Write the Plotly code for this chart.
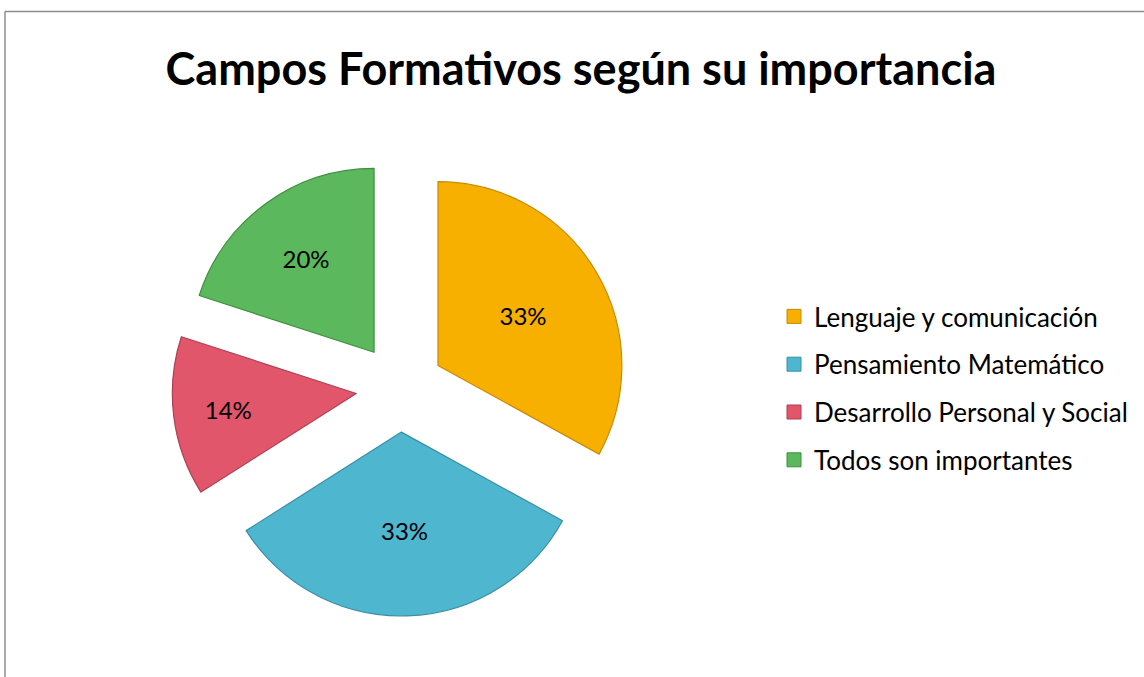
import plotly.graph_objects as go

categories = ["Lenguaje y comunicación", "Pensamiento Matemático",
              "Desarrollo Personal y Social", "Todos son importantes"]
values = [33, 33, 14, 20]
colors = ["#F8B000", "#4EB6CF", "#E2566C", "#5CB85C"]
edge_colors = ["#C98A00", "#3A8FA6", "#B23E52", "#3E8E3E"]
title_text = "Campos Formativos según su importancia"

W, H = 1144, 677
cx, cy, half = 400, 388, 228

fig = go.Figure()
fig.add_trace(go.Pie(
    labels=categories, values=values, sort=False, direction="clockwise",
    rotation=0, pull=[0.24] * len(values),
    marker=dict(colors=colors, line=dict(color=edge_colors, width=1.2)),
    texttemplate="%{percent:.0%}", textposition="inside",
    insidetextorientation="horizontal",
    textfont=dict(family="Lato, sans-serif", size=24, color="#000000"),
    showlegend=False, hoverinfo="label+percent",
    domain=dict(x=[(cx - half) / W, (cx + half) / W],
                y=[1 - (cy + half) / H, 1 - (cy - half) / H]),
))

# legend entries (one group per category for spacing)
for name, col, ec in zip(categories, colors, edge_colors):
    fig.add_trace(go.Scatter(
        x=[0], y=[0], mode="markers", name=name, legendgroup=name,
        marker=dict(symbol="square", size=14, color=col, line=dict(color=ec, width=1)),
        hoverinfo="skip",
    ))

fig.update_layout(
    width=W, height=H,
    margin=dict(l=0, r=0, t=0, b=0),
    paper_bgcolor="white", plot_bgcolor="white",
    xaxis=dict(visible=False, range=[1, 2]),
    yaxis=dict(visible=False, range=[1, 2]),
    title=dict(text="<b>" + title_text + "</b>", x=581 / W, xanchor="center",
               y=1 - 69 / H, yanchor="middle",
               font=dict(family="Lato, sans-serif", size=45, color="#000000")),
    legend=dict(x=774 / W, xanchor="left", y=1 - 293 / H, yanchor="top",
                font=dict(family="Lato, sans-serif", size=26, color="#000000"),
                tracegroupgap=11, itemclick=False, itemdoubleclick=False,
                bgcolor="rgba(0,0,0,0)"),
    shapes=[
        dict(type="line", xref="paper", yref="paper", x0=5 / W, x1=1.01,
             y0=1 - 11.5 / H, y1=1 - 11.5 / H, line=dict(color="#8C8C8C", width=1.5)),
        dict(type="line", xref="paper", yref="paper", x0=5 / W, x1=5 / W,
             y0=1 - 11.5 / H, y1=-0.01, line=dict(color="#8C8C8C", width=1.5)),
    ],
)

fig.write_html("out.html", config={"displayModeBar": False},
               post_script="document.body.style.margin='0';")
